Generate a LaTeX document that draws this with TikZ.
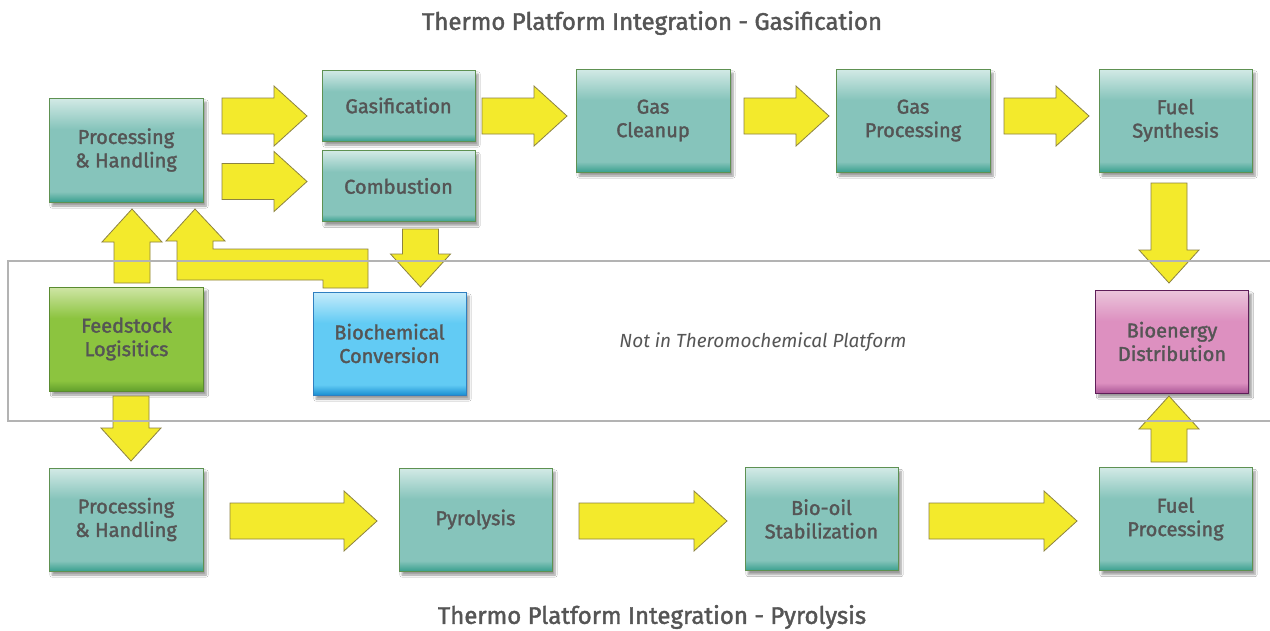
\documentclass[tikz,border=0pt]{standalone}
\usepackage{fontspec}
\setmainfont{Fira Sans}[FakeBold=1.7]
\newfontfamily\itfont{Fira Sans}
\usetikzlibrary{shadows.blur}
\definecolor{tealL}{HTML}{D3EAE6}
\definecolor{tealM}{HTML}{86C4BB}
\definecolor{tealD}{HTML}{3AA08F}
\definecolor{tealB}{HTML}{5E9152}
\definecolor{grnL}{HTML}{CFE5A6}
\definecolor{grnM}{HTML}{8CC43F}
\definecolor{grnD}{HTML}{62A02C}
\definecolor{grnB}{HTML}{5A8B30}
\definecolor{bluL}{HTML}{C6ECFB}
\definecolor{bluM}{HTML}{62CBF4}
\definecolor{bluD}{HTML}{1A8FD2}
\definecolor{bluB}{HTML}{2F7FC0}
\definecolor{pnkL}{HTML}{EBC6DB}
\definecolor{pnkM}{HTML}{DD90C0}
\definecolor{pnkD}{HTML}{AC5898}
\definecolor{pnkB}{HTML}{5E1E58}
\definecolor{yel}{HTML}{F3EA2C}
\definecolor{yelB}{HTML}{8C8242}
\definecolor{txt}{HTML}{555555}
\definecolor{framec}{HTML}{B3B3B3}
\pgfdeclareverticalshading{tealsh}{100bp}{color(0bp)=(tealD); color(25bp)=(tealD); color(30bp)=(tealM); color(60bp)=(tealM); color(75bp)=(tealL); color(100bp)=(tealL)}
\pgfdeclareverticalshading{grnsh}{100bp}{color(0bp)=(grnD); color(25bp)=(grnD); color(30bp)=(grnM); color(60bp)=(grnM); color(75bp)=(grnL); color(100bp)=(grnL)}
\pgfdeclareverticalshading{blush}{100bp}{color(0bp)=(bluD); color(25bp)=(bluD); color(30bp)=(bluM); color(60bp)=(bluM); color(75bp)=(bluL); color(100bp)=(bluL)}
\pgfdeclareverticalshading{pnksh}{100bp}{color(0bp)=(pnkD); color(25bp)=(pnkD); color(30bp)=(pnkM); color(60bp)=(pnkM); color(75bp)=(pnkL); color(100bp)=(pnkL)}
\tikzset{
  box/.style={draw=#1B, line width=0.9pt, shading=#1sh, minimum width=154pt, minimum height=104pt,
    inner sep=0pt, align=center, text=txt, font=\fontsize{20}{23.5}\selectfont,
    blur shadow={shadow xshift=3pt, shadow yshift=-4pt, shadow blur steps=6, shadow opacity=40}},
  small/.style={minimum width=153pt, minimum height=71pt},
  yarr/.style={fill=yel, draw=yelB, line width=0.8pt, line join=miter},
  title/.style={text=txt, font=\fontsize{24}{28}\selectfont, inner sep=0pt},
  ital/.style={text=txt, font=\fontsize{19}{22}\selectfont\itfont\itshape, inner sep=0pt},
}
\newcommand\harr[3]{\draw[yarr] ({#1},{#3-18}) -- ({#2-33},{#3-18}) -- ({#2-33},{#3-30}) -- ({#2},{#3}) -- ({#2-33},{#3+30}) -- ({#2-33},{#3+18}) -- ({#1},{#3+18}) -- cycle;}
\newcommand\darr[3]{\draw[yarr] ({#1-18},{#2}) -- ({#1-18},{#3-33}) -- ({#1-30},{#3-33}) -- ({#1},{#3}) -- ({#1+30},{#3-33}) -- ({#1+18},{#3-33}) -- ({#1+18},{#2}) -- cycle;}
\newcommand\uarr[3]{\draw[yarr] ({#1-18},{#2}) -- ({#1-18},{#3+33}) -- ({#1-30},{#3+33}) -- ({#1},{#3}) -- ({#1+30},{#3+33}) -- ({#1+18},{#3+33}) -- ({#1+18},{#2}) -- cycle;}
\begin{document}
\begin{tikzpicture}[x=1pt,y=-1pt]
\fill[white] (0,0) rectangle (1270,630);
\useasboundingbox (0,0) rectangle (1270,630);
% boxes
\node[box=teal] (ph1) at (126,150) {Processing\\\& Handling};
\node[box=teal,small] (gas) at (398.5,105.5) {Gasification};
\node[box=teal,small] (comb) at (398.5,186) {Combustion};
\node[box=teal,minimum height=103pt] (clean) at (653,120.5) {Gas\\Cleanup};
\node[box=teal,minimum height=103pt] (gproc) at (913,120.5) {Gas\\Processing};
\node[box=teal,minimum height=103pt,minimum width=153pt] (fsyn) at (1175.5,120.5) {Fuel\\Synthesis};
\node[box=grn] (feed) at (126.5,339) {Feedstock\\Logisitics};
\node[box=blu,minimum width=153pt,minimum height=103pt] (bio) at (389.5,343.5) {Biochemical\\Conversion};
\node[box=pnk,minimum width=153pt,minimum height=103pt] (bioe) at (1172,341.5) {Bioenergy\\Distribution};
\node[box=teal,minimum height=103pt] (ph2) at (126,519.5) {Processing\\\& Handling};
\node[box=teal,minimum height=103pt,minimum width=153pt] (pyro) at (475.5,519.5) {Pyrolysis};
\node[box=teal,minimum height=103pt,minimum width=153pt] (oil) at (821.5,519) {Bio-oil\\Stabilization};
\node[box=teal,minimum height=103pt,minimum width=153pt] (fproc) at (1175.5,519) {Fuel\\Processing};
% arrows
\harr{222}{307}{116}
\harr{222}{307}{181.5}
\harr{482}{567}{116}
\harr{744}{829}{116}
\harr{1004}{1089}{116}
\darr{1169}{183}{283}
\uarr{1169}{462}{396}
\harr{230}{377}{521}
\harr{579}{727}{521}
\harr{929}{1077}{521}
\darr{131}{396}{461}
\uarr{132}{283}{209}
\darr{420.5}{229}{287}
\draw[yarr] (195,209) -- (225,241) -- (213,241) -- (213,249) -- (368,249) -- (368,288) -- (323,288) -- (323,280) -- (177,280) -- (177,241) -- (166,241) -- cycle;
% frame
\draw[framec, line width=2pt] (1272,261) -- (7.5,261) -- (7.5,420.5) -- (1272,420.5);
% texts
\node[title] (t1) at (652,23) {Thermo Platform Integration - Gasification};
\node[title] (t2) at (652,617) {Thermo Platform Integration - Pyrolysis};
\node[ital] (nt) at (763,342) {Not in Theromochemical Platform};
\end{tikzpicture}
\end{document}
